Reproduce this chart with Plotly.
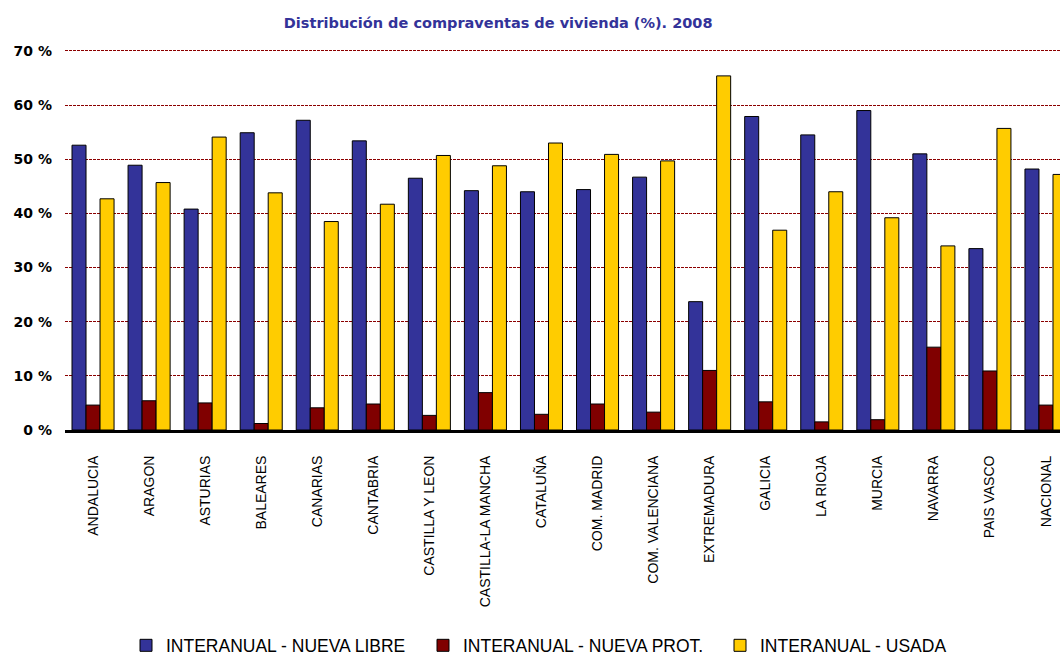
import plotly.graph_objects as go

regiones = ["ANDALUCIA", "ARAGON", "ASTURIAS", "BALEARES", "CANARIAS", "CANTABRIA",
            "CASTILLA Y LEON", "CASTILLA-LA MANCHA", "CATALUÑA", "COM. MADRID",
            "COM. VALENCIANA", "EXTREMADURA", "GALICIA", "LA RIOJA", "MURCIA",
            "NAVARRA", "PAIS VASCO", "NACIONAL"]

nueva_libre = [52.6, 48.9, 40.8, 54.9, 57.2, 53.4, 46.5, 44.2, 44.0, 44.4,
               46.7, 23.7, 57.9, 54.5, 59.0, 51.0, 33.5, 48.2]
nueva_prot = [4.6, 5.4, 5.0, 1.2, 4.1, 4.8, 2.7, 6.9, 2.9, 4.8,
              3.3, 11.0, 5.2, 1.5, 1.9, 15.3, 10.9, 4.6]
usada = [42.7, 45.7, 54.1, 43.8, 38.5, 41.7, 50.7, 48.8, 53.0, 50.9,
         49.7, 65.4, 36.9, 44.0, 39.2, 34.0, 55.7, 47.2]

series = [
    ("INTERANUAL - NUEVA LIBRE", nueva_libre, "#333399"),
    ("INTERANUAL - NUEVA PROT.", nueva_prot, "#800000"),
    ("INTERANUAL - USADA", usada, "#FFCC00"),
]

fig = go.Figure()
for nombre, valores, color in series:
    fig.add_trace(go.Bar(
        x=list(range(len(regiones))), y=valores, name=nombre,
        marker=dict(color=color, line=dict(color="#000000", width=1)),
    ))

fig.update_layout(
    width=1060, height=655,
    margin=dict(l=65, r=0, t=48, b=225, autoexpand=False),
    paper_bgcolor="white", plot_bgcolor="white",
    barmode="group", bargap=0.25, bargroupgap=0,
    title=dict(
        text="Distribución de compraventas de vivienda (%). 2008",
        x=0.47, xref="container", xanchor="center",
        y=0.965, yref="container", yanchor="middle",
        font=dict(family="DejaVu Sans", size=14.5, color="#333399", weight="bold"),
    ),
    font=dict(family="Liberation Sans", color="#000000"),
    showlegend=True,
    legend=dict(
        orientation="h", x=(126 - 65) / 995, xanchor="left",
        y=-0.564, yanchor="middle",
        font=dict(family="Liberation Sans", size=17.5, color="#000000"),
        entrywidth=252, entrywidthmode="pixels", itemwidth=30,
    ),
)

fig.update_xaxes(
    range=[-0.5, 17.25],
    tickmode="array", tickvals=list(range(len(regiones))), ticktext=regiones,
    tickangle=-90, ticklabelstandoff=17,
    tickfont=dict(family="Liberation Sans", size=14, color="#000000"),
    showline=True, linecolor="#000000", linewidth=3,
    ticks="", showgrid=False, zeroline=False,
)

fig.update_yaxes(
    range=[0, 70.55], tickmode="linear", tick0=0, dtick=10,
    ticksuffix=" %", ticklabelstandoff=12,
    tickfont=dict(family="DejaVu Sans", size=14, color="#000000", weight="bold"),
    showgrid=True, gridcolor="#8B0000", gridwidth=1, griddash="3px,1px",
    zeroline=False, showline=False, ticks="",
)

fig.write_html("out.html")
